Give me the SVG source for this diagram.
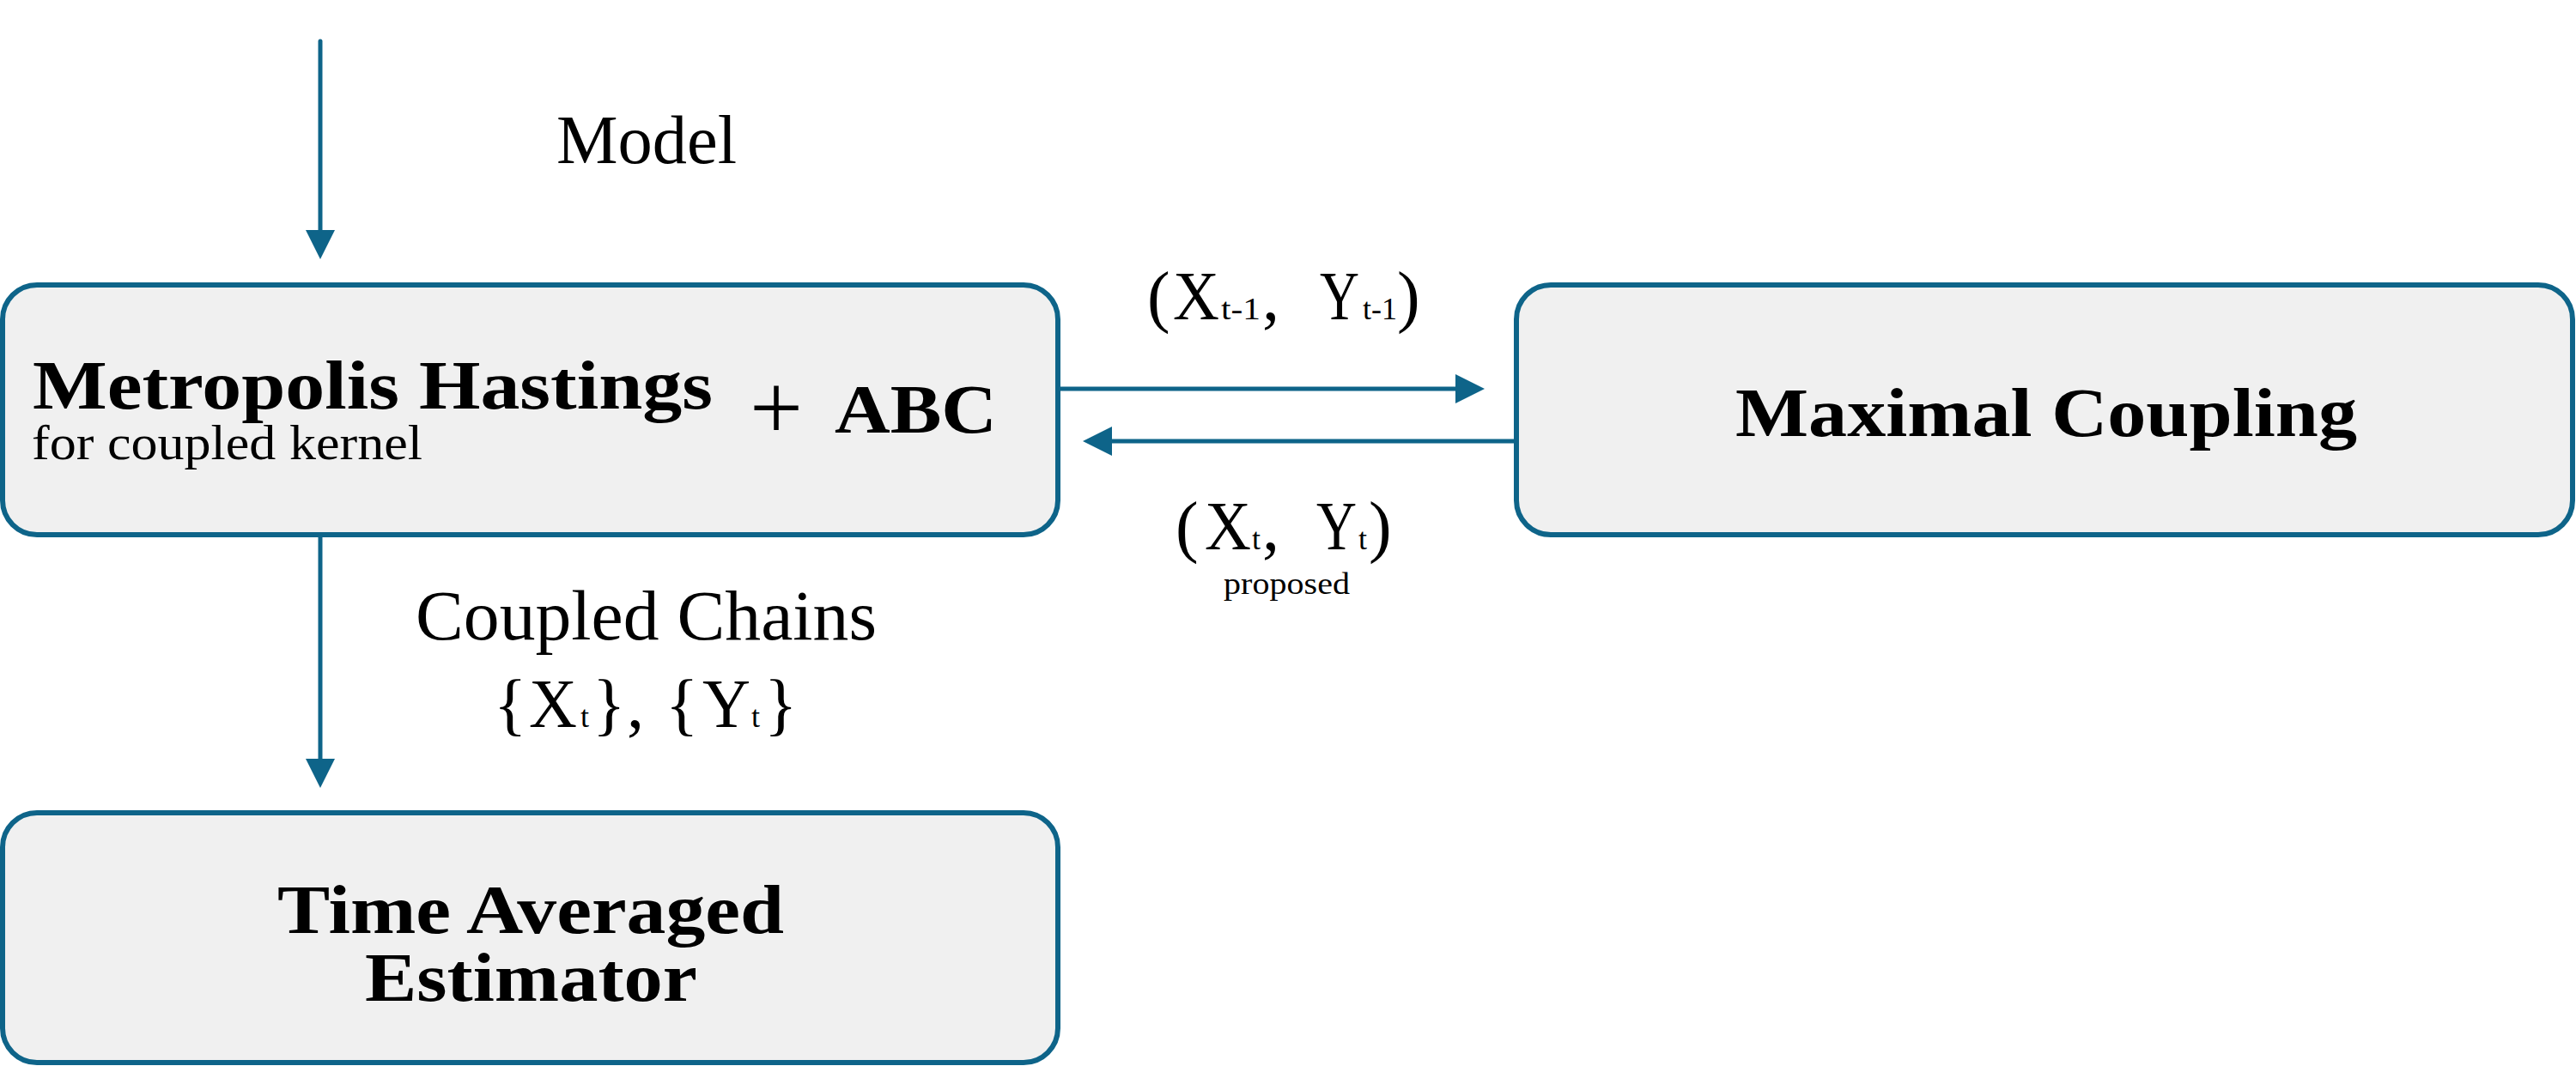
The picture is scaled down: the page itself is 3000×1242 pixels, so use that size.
<svg xmlns="http://www.w3.org/2000/svg" width="3000" height="1242" viewBox="0 0 3000 1242">
<style>
.box{fill:#f0f0f0;stroke:#0e6489;stroke-width:6}
.edge{stroke:#0e6489;stroke-width:5;fill:none;marker-end:url(#ah)}
.t{font-family:"Liberation Serif","Times New Roman",serif;fill:#000}
.b{font-weight:bold}
.m{font-size:80px}
.s{font-size:36px}
</style>
<defs>
<marker id="ah" markerUnits="userSpaceOnUse" markerWidth="36" markerHeight="36" viewBox="0 -18 36 36" refX="2" refY="0" orient="auto" overflow="visible">
<path d="M0,-17 L34,0 L0,17 z" fill="#0e6489"/>
</marker>
</defs>
<rect width="3000" height="1242" fill="#ffffff"/>
<g id="connectors">
<line class="edge" x1="373" y1="48" x2="373" y2="270" stroke-linecap="round"/>
<line class="edge" x1="373" y1="623" x2="373" y2="886"/>
<line class="edge" x1="1233" y1="453" x2="1697" y2="453"/>
<line class="edge" x1="1766" y1="514" x2="1293" y2="514"/>
</g>
<g id="label-model">
<text class="t" x="648" y="190" font-size="80" textLength="210" lengthAdjust="spacingAndGlyphs">Model</text>
</g>
<g id="label-prev">
<text class="t m" x="1336" y="372">(</text>
<text class="t m" x="1366" y="372" textLength="54" lengthAdjust="spacingAndGlyphs">X</text>
<text class="t s" x="1422" y="372" textLength="46" lengthAdjust="spacingAndGlyphs">t-1</text>
<text class="t m" x="1470" y="372">,</text>
<text class="t m" x="1537" y="372" textLength="46" lengthAdjust="spacingAndGlyphs">Y</text>
<text class="t s" x="1587" y="372" textLength="40" lengthAdjust="spacingAndGlyphs">t-1</text>
<text class="t m" x="1627" y="372">)</text>
</g>
<g id="label-next">
<text class="t m" x="1369" y="640">(</text>
<text class="t m" x="1403" y="640" textLength="54" lengthAdjust="spacingAndGlyphs">X</text>
<text class="t s" x="1458" y="640">t</text>
<text class="t m" x="1470" y="640">,</text>
<text class="t m" x="1533" y="640" textLength="47" lengthAdjust="spacingAndGlyphs">Y</text>
<text class="t s" x="1582" y="640">t</text>
<text class="t m" x="1594" y="640">)</text>
<text class="t" x="1425" y="692" font-size="36" textLength="147" lengthAdjust="spacingAndGlyphs">proposed</text>
</g>
<g id="label-chains">
<text class="t" x="484" y="745" font-size="82" textLength="537" lengthAdjust="spacingAndGlyphs">Coupled Chains</text>
<text class="t m" x="575" y="847">{</text>
<text class="t m" x="616" y="847" textLength="56" lengthAdjust="spacingAndGlyphs">X</text>
<text class="t s" x="676" y="847">t</text>
<text class="t m" x="690" y="847">}</text>
<text class="t m" x="730" y="847">,</text>
<text class="t m" x="775" y="847">{</text>
<text class="t m" x="818" y="847" textLength="56" lengthAdjust="spacingAndGlyphs">Y</text>
<text class="t s" x="875" y="847">t</text>
<text class="t m" x="890" y="847">}</text>
</g>
<g id="node-mh">
<rect class="box" x="3" y="332" width="1229" height="291" rx="40" ry="40"/>
<text class="t b" x="38" y="476" font-size="80" textLength="792" lengthAdjust="spacingAndGlyphs">Metropolis Hastings</text>
<text class="t" x="37" y="535" font-size="56" textLength="455" lengthAdjust="spacingAndGlyphs">for coupled kernel</text>
<text class="t" x="904" y="512" font-size="110" text-anchor="middle">+</text>
<text class="t b" x="972" y="504" font-size="80" textLength="189" lengthAdjust="spacingAndGlyphs">ABC</text>
</g>
<g id="node-mc">
<rect class="box" x="1766" y="332" width="1230" height="291" rx="40" ry="40"/>
<text class="t b" x="2021" y="508" font-size="80" textLength="724" lengthAdjust="spacingAndGlyphs">Maximal Coupling</text>
</g>
<g id="node-tae">
<rect class="box" x="3" y="947" width="1229" height="291" rx="40" ry="40"/>
<text class="t b" x="323" y="1087" font-size="80" textLength="590" lengthAdjust="spacingAndGlyphs">Time Averaged</text>
<text class="t b" x="425" y="1166" font-size="80" textLength="387" lengthAdjust="spacingAndGlyphs">Estimator</text>
</g>
</svg>
